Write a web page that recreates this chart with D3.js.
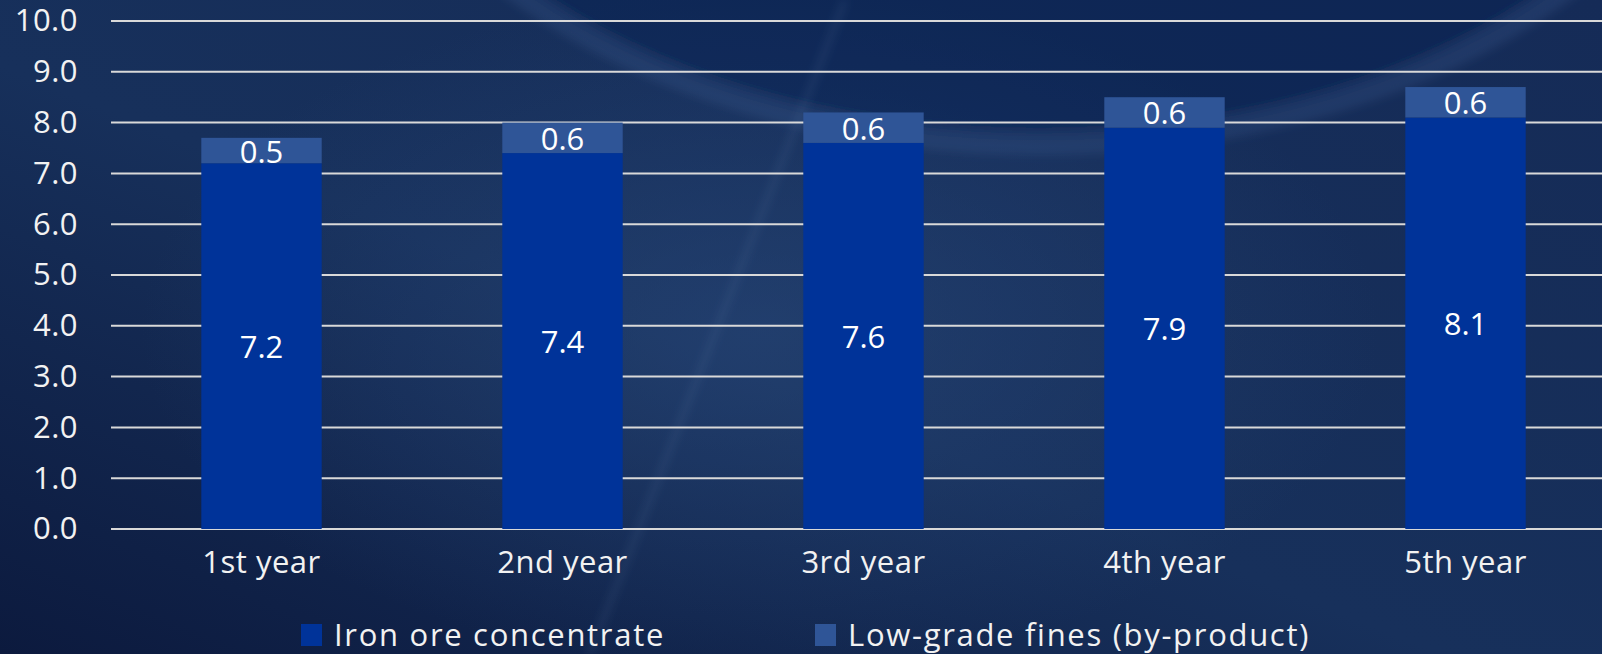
<!DOCTYPE html>
<html>
<head>
<meta charset="utf-8">
<script src="https://cdn.jsdelivr.net/npm/d3@7"></script>
<style>
  html, body { margin: 0; padding: 0; background: #0f1f47; overflow: hidden; }
  svg { display: block; }
</style>
</head>
<body>
<svg id="chart"></svg>
<script>
/* stacked bar — iron ore output by year */

const YEARS       = ['1st year', '2nd year', '3rd year', '4th year', '5th year'];
const CONCENTRATE = [7.2, 7.4, 7.6, 7.9, 8.1];
const FINES       = [0.5, 0.6, 0.6, 0.6, 0.6];
const SERIES      = ['Iron ore concentrate', 'Low-grade fines (by-product)'];
const Y_TICKS     = [0, 1, 2, 3, 4, 5, 6, 7, 8, 9, 10];

const COLOR = {
  'Iron ore concentrate':         '#003399',
  'Low-grade fines (by-product)': '#2f5597',
};

const W = 1602, H = 654;
const FONT = '"Open Sans", "Noto Sans", sans-serif';
const FS   = 31;

const svg = d3.select('#chart')
  .attr('width', W)
  .attr('height', H)
  .attr('viewBox', `0 0 ${W} ${H}`);

/* ── Background ── */
const defs = svg.append('defs');

const bg = defs.append('linearGradient')
  .attr('id', 'bg').attr('x1', 0).attr('y1', 1).attr('x2', 1).attr('y2', 0);
bg.append('stop').attr('offset', '0%').attr('stop-color', '#0c1a3e');
bg.append('stop').attr('offset', '45%').attr('stop-color', '#17305b');
bg.append('stop').attr('offset', '100%').attr('stop-color', '#152b57');

const glow = defs.append('radialGradient')
  .attr('id', 'glow').attr('cx', 0.5).attr('cy', 0.5).attr('r', 0.5);
glow.append('stop').attr('offset', '0%').attr('stop-color', '#2a4a7c').attr('stop-opacity', 0.55);
glow.append('stop').attr('offset', '100%').attr('stop-color', '#2a4a7c').attr('stop-opacity', 0);

defs.append('filter').attr('id', 'soft')
  .append('feGaussianBlur').attr('stdDeviation', 5);

svg.append('rect').attr('width', W).attr('height', H).attr('fill', 'url(#bg)');

svg.append('ellipse')
  .attr('cx', 760).attr('cy', 330).attr('rx', 620).attr('ry', 340)
  .attr('fill', 'url(#glow)');

// big arc at the top
svg.append('ellipse')
  .attr('cx', 1040).attr('cy', -311).attr('rx', 700).attr('ry', 454)
  .attr('fill', '#0e2150').attr('fill-opacity', 0.35)
  .attr('stroke', '#5a7fb5').attr('stroke-opacity', 0.16)
  .attr('stroke-width', 24)
  .attr('filter', 'url(#soft)');

// diagonal streak
svg.append('line')
  .attr('x1', 845).attr('y1', 0).attr('x2', 590).attr('y2', H)
  .attr('stroke', '#6f8fc0').attr('stroke-opacity', 0.2)
  .attr('stroke-width', 4)
  .attr('filter', 'url(#soft)');

/* ── Scales ── */
const x = d3.scaleBand()
  .domain(YEARS)
  .range([111, 1616])
  .paddingInner(0.6)
  .paddingOuter(0.3);

const y = d3.scaleLinear()
  .domain([0, 10])
  .range([529, 21]);

/* ── Gridlines + y labels ── */
svg.append('g')
  .selectAll('line')
  .data(Y_TICKS)
  .join('line')
  .attr('x1', 111)
  .attr('x2', W)
  .attr('y1', d => y(d))
  .attr('y2', d => y(d))
  .attr('stroke', '#d9d9d9')
  .attr('stroke-width', 2);

svg.append('g')
  .attr('transform', 'translate(111,0)')
  .call(d3.axisLeft(y).tickValues(Y_TICKS).tickFormat(d3.format('.1f')).tickSize(0).tickPadding(33))
  .call(ax => ax.select('.domain').remove())
  .call(ax => ax.selectAll('.tick text')
    .attr('fill', '#f2f2f2')
    .attr('font-size', FS)
    .attr('letter-spacing', 0.5)
    .attr('font-family', FONT));

/* ── Stacked bars ── */
const rows = YEARS.map((yr, i) => ({
  year: yr,
  'Iron ore concentrate': CONCENTRATE[i],
  'Low-grade fines (by-product)': FINES[i],
}));

const stacked = d3.stack().keys(SERIES)(rows);

const layer = svg.append('g')
  .selectAll('g')
  .data(stacked)
  .join('g')
  .attr('fill', d => COLOR[d.key]);

layer.selectAll('rect')
  .data(d => d)
  .join('rect')
  .attr('x', d => x(d.data.year))
  .attr('width', x.bandwidth())
  .attr('y', d => y(d[1]))
  .attr('height', d => y(d[0]) - y(d[1]));

layer.selectAll('text')
  .data(d => d.map(v => ({ v, key: d.key })))
  .join('text')
  .attr('x', d => x(d.v.data.year) + x.bandwidth() / 2)
  .attr('y', d => (y(d.v[0]) + y(d.v[1])) / 2)
  .attr('text-anchor', 'middle')
  .attr('dominant-baseline', 'central')
  .attr('fill', '#ffffff')
  .attr('font-size', FS)
  .attr('font-family', FONT)
  .text(d => d3.format('.1f')(d.v.data[d.key]));

/* ── X labels ── */
svg.append('g')
  .attr('transform', 'translate(0,529)')
  .call(d3.axisBottom(x).tickSize(0).tickPadding(22))
  .call(ax => ax.select('.domain').remove())
  .call(ax => ax.selectAll('.tick text')
    .attr('fill', '#f2f2f2')
    .attr('font-size', FS)
    .attr('letter-spacing', 0.5)
    .attr('font-family', FONT));

/* ── Legend ── */
const LEGEND_X = [301, 815];

const legend = svg.append('g')
  .selectAll('g')
  .data(SERIES)
  .join('g')
  .attr('transform', (d, i) => `translate(${LEGEND_X[i]},624)`);

legend.append('rect')
  .attr('width', 21)
  .attr('height', 22)
  .attr('fill', d => COLOR[d]);

legend.append('text')
  .attr('x', 33)
  .attr('y', 10)
  .attr('dominant-baseline', 'central')
  .attr('fill', '#f2f2f2')
  .attr('font-size', FS)
  .attr('letter-spacing', 1.7)
  .attr('font-family', FONT)
  .text(d => d);
</script>
</body>
</html>
